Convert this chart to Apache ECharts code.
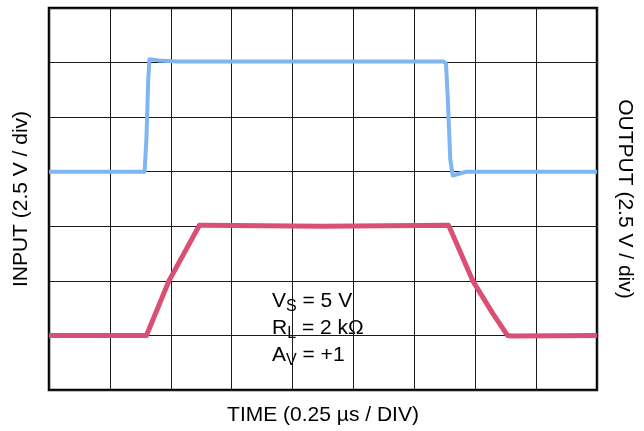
<!DOCTYPE html>
<html>
<head>
<meta charset="utf-8">
<script src="https://cdn.jsdelivr.net/npm/echarts@6/dist/echarts.min.js"></script>
<style>
html,body{margin:0;padding:0;background:#fff;}
#chart{width:644px;height:431px;}
</style>
</head>
<body>
<div id="chart"></div>
<script>
// Time in divisions (0.25 µs / DIV), level in divisions (2.5 V / div)
var inputTime  = [0, 1.57, 1.60, 1.63, 1.65, 1.80, 2.10, 4.00, 6.00, 6.48, 6.52, 6.55, 6.59, 6.63, 6.66, 6.85, 9.00];
var inputLevel = [4.00, 4.00, 4.60, 5.70, 6.06, 6.04, 6.02, 6.02, 6.02, 6.02, 5.98, 5.33, 4.23, 3.93, 3.92, 4.00, 4.00];

var outputTime  = [0, 1.60, 1.97, 2.47, 2.53, 4.50, 6.56, 6.58, 6.61, 6.96, 7.29, 7.53, 7.60, 9.00];
var outputLevel = [1.00, 1.00, 2.00, 3.02, 3.02, 3.00, 3.02, 3.00, 2.90, 2.00, 1.40, 1.00, 0.99, 1.00];

var xDivisions = 9;
var yDivisions = 7;
var xTitle = 'TIME (0.25 \u00b5s / DIV)';
var leftTitle = 'INPUT (2.5 V / div)';
var rightTitle = 'OUTPUT (2.5 V / div)';
var noteLines = [['V', 'S', ' = 5 V'], ['R', 'L', ' = 2 k\u03a9'], ['A', 'V', ' = +1']];

function pairs(xs, ys) { return xs.map(function (x, i) { return [x, ys[i]]; }); }

var FONT = 'Liberation Sans';
var chart = echarts.init(document.getElementById('chart'), null, {renderer: 'canvas'});

var noteText = noteLines.map(function (l) { return '{m|' + l[0] + '}{s|' + l[1] + '}{m|' + l[2] + '}'; }).join('\n');

var hiddenAxis = {
  axisLine: {show: false}, axisTick: {show: false}, axisLabel: {show: false},
  splitLine: {show: true, lineStyle: {color: '#1a1a1a', width: 1}}
};

chart.setOption({
  animation: false,
  backgroundColor: '#fff',
  grid: {left: 49, right: 47, top: 8, bottom: 39, show: true, borderColor: '#000', borderWidth: 2.5, backgroundColor: 'transparent'},
  xAxis: Object.assign({
    type: 'value', min: 0, max: xDivisions, interval: 1,
    name: xTitle, nameLocation: 'middle', nameGap: 15,
    nameTextStyle: {fontFamily: FONT, fontSize: 21, color: '#000'}
  }, hiddenAxis),
  yAxis: [
    Object.assign({
      type: 'value', min: 0, max: yDivisions, interval: 1, position: 'left',
      name: leftTitle, nameLocation: 'middle', nameGap: 17, nameRotate: 90,
      nameTextStyle: {fontFamily: FONT, fontSize: 21, color: '#000'}
    }, hiddenAxis),
    Object.assign({
      type: 'value', min: 0, max: yDivisions, interval: 1, position: 'right',
      name: rightTitle, nameLocation: 'middle', nameGap: 17, nameRotate: -90,
      nameTextStyle: {fontFamily: FONT, fontSize: 21, color: '#000'}
    }, hiddenAxis, {splitLine: {show: false}})
  ],
  graphic: [{
    type: 'group', left: 262, top: 287, z: 1,
    children: [
      {type: 'rect', shape: {x: 0, y: 0, width: 123, height: 85}, style: {fill: '#fff'}},
      {type: 'text', x: 10, y: 1, style: {
        text: noteText, fill: '#000',
        rich: {
          m: {fontFamily: FONT, fontSize: 21, lineHeight: 27, color: '#000', verticalAlign: 'middle'},
          s: {fontFamily: FONT, fontSize: 16, lineHeight: 16, color: '#000', verticalAlign: 'bottom'}
        }
      }}
    ]
  }],
  series: [
    {type: 'line', name: 'INPUT', data: pairs(inputTime, inputLevel), showSymbol: false, symbol: 'none',
      lineStyle: {color: '#7db6f2', width: 4, join: 'round'}, z: 3},
    {type: 'line', name: 'OUTPUT', data: pairs(outputTime, outputLevel), showSymbol: false, symbol: 'none',
      lineStyle: {color: '#d94f76', width: 5, join: 'round'}, z: 3}
  ]
});
</script>
</body>
</html>
